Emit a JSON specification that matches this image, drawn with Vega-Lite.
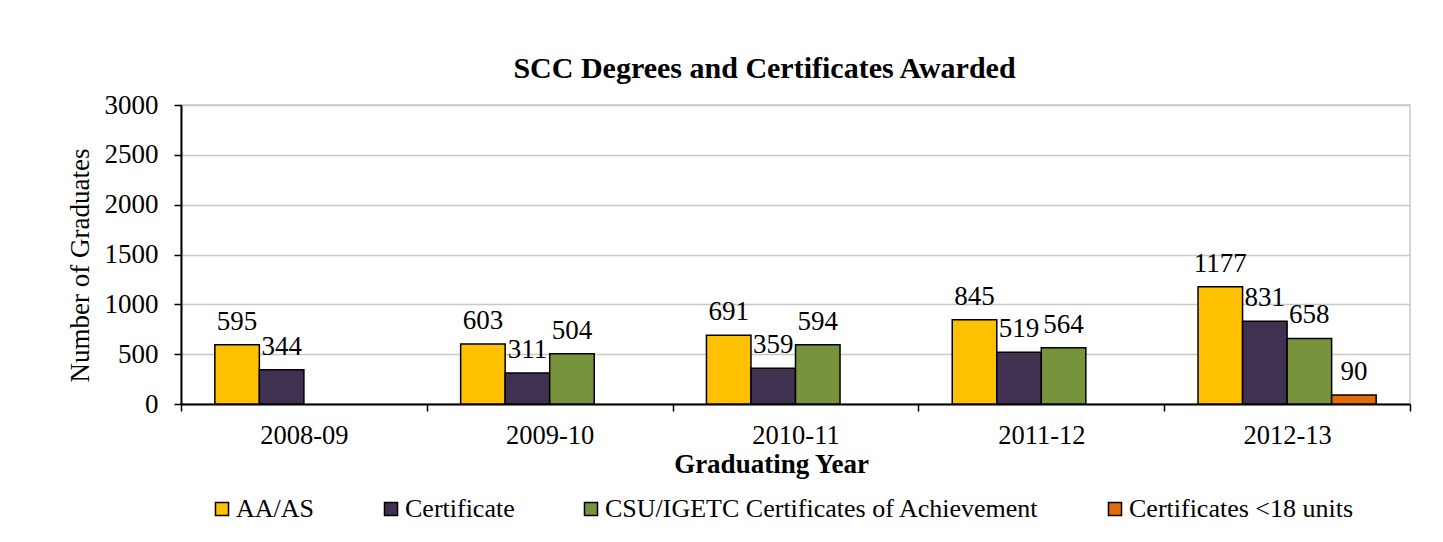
{
  "$schema": "https://vega.github.io/schema/vega-lite/v6.json",
  "width": 1229,
  "height": 299,
  "autosize": {"type": "none"},
  "padding": {"left": 181, "top": 105, "right": 33, "bottom": 138},
  "background": "white",
  "title": {
    "text": "SCC Degrees and Certificates Awarded",
    "font": "Liberation Serif",
    "fontSize": 30,
    "fontWeight": "bold",
    "color": "black",
    "anchor": "middle",
    "dx": -31,
    "offset": 7
  },
  "data": {
    "values": [
      {"year": "2008-09", "series": "AA/AS", "value": 595},
      {"year": "2008-09", "series": "Certificate", "value": 344},
      {"year": "2009-10", "series": "AA/AS", "value": 603},
      {"year": "2009-10", "series": "Certificate", "value": 311},
      {"year": "2009-10", "series": "CSU/IGETC Certificates of Achievement", "value": 504},
      {"year": "2010-11", "series": "AA/AS", "value": 691},
      {"year": "2010-11", "series": "Certificate", "value": 359},
      {"year": "2010-11", "series": "CSU/IGETC Certificates of Achievement", "value": 594},
      {"year": "2011-12", "series": "AA/AS", "value": 845},
      {"year": "2011-12", "series": "Certificate", "value": 519},
      {"year": "2011-12", "series": "CSU/IGETC Certificates of Achievement", "value": 564},
      {"year": "2012-13", "series": "AA/AS", "value": 1177},
      {"year": "2012-13", "series": "Certificate", "value": 831},
      {"year": "2012-13", "series": "CSU/IGETC Certificates of Achievement", "value": 658},
      {"year": "2012-13", "series": "Certificates <18 units", "value": 90}
    ]
  },
  "encoding": {
    "x": {
      "field": "year",
      "type": "nominal",
      "scale": {"paddingInner": 0, "paddingOuter": 0},
      "axis": {
        "title": "Graduating Year",
        "titleFont": "Liberation Serif",
        "titleFontSize": 27,
        "titleFontWeight": "bold",
        "titleColor": "black",
        "titlePadding": 3,
        "titleX": 590,
        "labelFont": "Liberation Serif",
        "labelFontSize": 26.5,
        "labelColor": "black",
        "labelAngle": 0,
        "labelPadding": 11,
        "tickBand": "extent",
        "tickSize": 7,
        "tickColor": "black",
        "tickWidth": 1.5,
        "domainColor": "black",
        "domainWidth": 2,
        "grid": false
      }
    },
    "xOffset": {
      "field": "series",
      "type": "nominal",
      "scale": {
        "domain": ["AA/AS", "Certificate", "CSU/IGETC Certificates of Achievement", "Certificates <18 units"],
        "paddingInner": 0,
        "paddingOuter": 0.76
      }
    },
    "y": {
      "field": "value",
      "type": "quantitative",
      "scale": {"domain": [0, 3000]},
      "axis": {
        "title": "Number of Graduates",
        "titleFont": "Liberation Serif",
        "titleFontSize": 27,
        "titleFontWeight": "normal",
        "titleColor": "black",
        "titlePadding": 10,
        "titleY": 160,
        "values": [0, 500, 1000, 1500, 2000, 2500, 3000],
        "format": "d",
        "labelFont": "Liberation Serif",
        "labelFontSize": 27,
        "labelColor": "black",
        "labelPadding": 16,
        "tickSize": 7,
        "tickColor": "black",
        "tickWidth": 1.5,
        "domainColor": "black",
        "domainWidth": 2,
        "grid": true,
        "gridColor": "#c8c8c8",
        "gridWidth": 1.5
      }
    }
  },
  "layer": [
    {
      "mark": {"type": "bar", "stroke": "black", "strokeWidth": 1.5},
      "encoding": {
        "color": {
          "field": "series",
          "type": "nominal",
          "scale": {
            "domain": ["AA/AS", "Certificate", "CSU/IGETC Certificates of Achievement", "Certificates <18 units"],
            "range": ["#FFC000", "#403151", "#77933C", "#E36C09"]
          },
          "legend": {
            "title": null,
            "orient": "none",
            "direction": "horizontal",
            "legendX": 28,
            "legendY": 391,
            "columnPadding": 63,
            "labelFont": "Liberation Serif",
            "labelFontSize": 26,
            "labelColor": "black",
            "labelLimit": 1000,
            "labelOffset": 1,
            "symbolType": "square",
            "symbolSize": 170,
            "symbolStrokeColor": "black",
            "symbolStrokeWidth": 1.5,
            "symbolOpacity": 1
          }
        }
      }
    },
    {
      "mark": {
        "type": "text",
        "baseline": "bottom",
        "dy": -9,
        "font": "Liberation Serif",
        "fontSize": 27,
        "color": "black"
      },
      "encoding": {
        "text": {"field": "value", "type": "quantitative"}
      }
    }
  ],
  "config": {
    "font": "Liberation Serif",
    "view": {"stroke": "#c8c8c8", "strokeWidth": 1.5}
  }
}
